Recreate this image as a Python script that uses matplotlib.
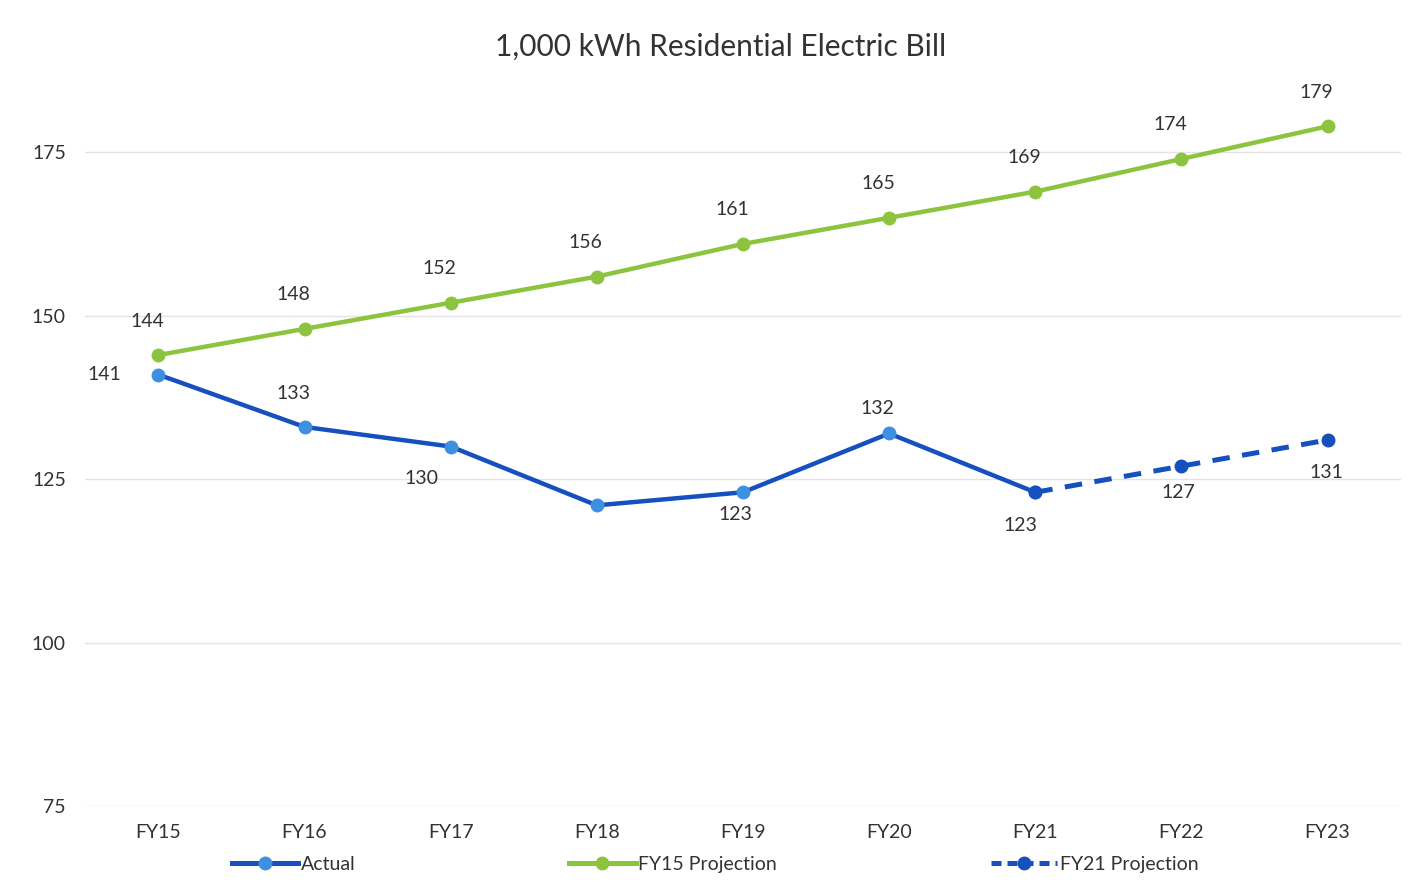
import matplotlib.pyplot as plt
from matplotlib.lines import Line2D

plt.rcParams['font.family'] = ['Lato', 'DejaVu Sans']

categories = ["FY15", "FY16", "FY17", "FY18", "FY19", "FY20", "FY21", "FY22", "FY23"]
fy15_projection = [144, 148, 152, 156, 161, 165, 169, 174, 179]
actual = [141, 133, 130, 121, 123, 132, 123]
fy21_projection = [123, 127, 131]
y_ticks = [75, 100, 125, 150, 175]

green = "#8CC43F"
dark_blue = "#1650BE"
light_blue = "#3D8FE0"
text_col = "#333333"

fig = plt.figure(figsize=(14.22, 8.92), dpi=100)
ax = fig.add_axes([0.06, 0.0964, 0.925, 0.806])

x = list(range(len(categories)))
ax.plot(x, fy15_projection, color=green, lw=3.2, marker='o', ms=9,
        mfc=green, mec=green, zorder=3)
ax.plot(x[:len(actual)], actual, color=dark_blue, lw=3.2, marker='o', ms=9,
        mfc=light_blue, mec=light_blue, zorder=3)
xp = x[len(actual) - 1:]
ax.plot(xp, fy21_projection, color=dark_blue, lw=3.6, ls=(0, (3.5, 2.5)), marker='o',
        ms=9, mfc=dark_blue, mec=dark_blue, zorder=4)

fs = 14
# green labels above
for i, v in enumerate(fy15_projection):
    ax.annotate(str(v), (i, v), xytext=(-11, 34), textcoords='offset pixels',
                ha='center', va='center', fontsize=fs, color=text_col)

# actual labels (pixel offsets of label centre from point)
act_offsets = {0: (-54, 0), 1: (-11, 33), 2: (-29, -32),
               4: (-8, -22), 5: (-12, 25), 6: (-15, -33)}
for i, (dx, dy) in act_offsets.items():
    ax.annotate(str(actual[i]), (i, actual[i]), xytext=(dx, dy), textcoords='offset pixels',
                ha='center', va='center', fontsize=fs, color=text_col)

proj_offsets = {1: (-3, -26), 2: (-1, -33)}
for j, (dx, dy) in proj_offsets.items():
    ax.annotate(str(fy21_projection[j]), (xp[j], fy21_projection[j]), xytext=(dx, dy),
                textcoords='offset pixels', ha='center', va='center', fontsize=fs, color=text_col)

ax.set_xlim(-0.5, len(categories) - 0.5)
ax.set_ylim(75, 185)
ax.set_yticks(y_ticks)
ax.set_xticks(x)
ax.set_xticklabels(categories)
ax.tick_params(axis='both', length=0, labelsize=14, labelcolor=text_col)
ax.tick_params(axis='x', pad=13)
ax.tick_params(axis='y', pad=14)
ax.grid(axis='y', color='#E3E3E3', lw=1)
ax.set_axisbelow(True)
for s in ax.spines.values():
    s.set_visible(False)

fig.text(0.507, 0.947, "1,000 kWh Residential Electric Bill", ha='center', va='center',
         fontsize=21.5, color=text_col)

handles = [
    Line2D([], [], color=dark_blue, lw=3.6, marker='o', ms=9, mfc=light_blue, mec=light_blue),
    Line2D([], [], color=green, lw=3.6, marker='o', ms=9, mfc=green, mec=green),
    Line2D([], [], color=dark_blue, lw=3.6, ls=(0, (2, 1.2)), marker='o', ms=9,
           mfc=dark_blue, mec=dark_blue),
]
fig.legend(handles, ["Actual", "FY15 Projection", "FY21 Projection"], loc='center',
           bbox_to_anchor=(0.503, 0.031), ncol=3, frameon=False, fontsize=14,
           handlelength=3.4, handletextpad=0.15, columnspacing=11.0, labelcolor=text_col)

fig.savefig("out.png", dpi=100, facecolor='white')
